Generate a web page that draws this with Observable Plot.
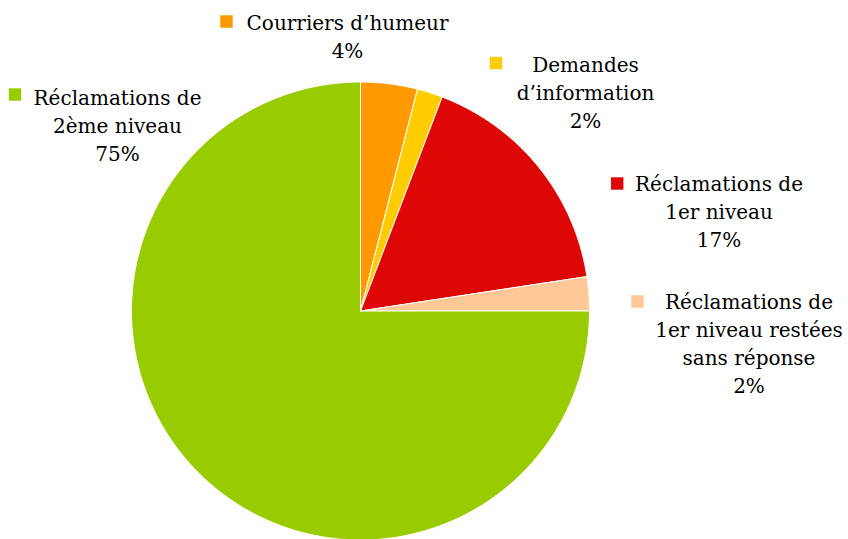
<!DOCTYPE html>
<html>
<head>
<meta charset="utf-8">
<script src="https://cdn.jsdelivr.net/npm/d3@7"></script>
<script src="https://cdn.jsdelivr.net/npm/@observablehq/plot@0.6"></script>
<style>
  html, body { margin: 0; padding: 0; background: #fff; }
  #chart svg { display: block; }
</style>
</head>
<body>
<div id="chart"></div>
<script>
// ---- Data ----
const categories = [
  "Courriers d’humeur",
  "Demandes d’information",
  "Réclamations de 1er niveau",
  "Réclamations de 1er niveau restées sans réponse",
  "Réclamations de 2ème niveau"
];
const values = [4.0, 1.8, 16.8, 2.4, 75.0];
const colors = ["#FF9900", "#FFCC00", "#DD0806", "#FFC896", "#99CC00"];
const labelLines = [
  ["Courriers d’humeur"],
  ["Demandes", "d’information"],
  ["Réclamations de", "1er niveau"],
  ["Réclamations de", "1er niveau restées", "sans réponse"],
  ["Réclamations de", "2ème niveau"]
];

// ---- Layout (pixels) ----
const W = 848, H = 539;
const CX = 360, CY = 310.5, R = 229;
const FS = 20, LH = 28;
// text centre x / first baseline, legend square centre
const labelLayout = [
  {tx: 347,   ty: 30,  sx: 226,   sy: 21},
  {tx: 585,   ty: 71.7, sx: 495.5, sy: 62.5},
  {tx: 718.5, ty: 191, sx: 616.7, sy: 183},
  {tx: 748.5, ty: 309, sx: 637,   sy: 301},
  {tx: 117,   ty: 105, sx: 14.5,  sy: 94}
];
const ux = px => (px - CX) / R;
const uy = py => (CY - py) / R;

// ---- Pie geometry (unit radius, y up, clockwise from 12 o'clock) ----
const arcs = d3.pie().sort(null).value(d => d.value).startAngle(0).endAngle(2 * Math.PI)(
  categories.map((c, i) => ({category: c, value: values[i]}))
);
const pieRows = [];
arcs.forEach(a => {
  const c = a.data.category;
  pieRows.push({category: c, x: 0, y: 0});
  const n = Math.max(2, Math.ceil((a.endAngle - a.startAngle) / 0.01));
  for (let k = 0; k <= n; k++) {
    const t = a.startAngle + (a.endAngle - a.startAngle) * k / n;
    pieRows.push({category: c, x: Math.sin(t), y: Math.cos(t)});
  }
  pieRows.push({category: c, x: 0, y: 0});
});

const labels = categories.map((c, i) => ({
  category: c,
  text: [...labelLines[i], Math.round(values[i]) + "%"].join("\n"),
  x: ux(labelLayout[i].tx),
  y: uy(labelLayout[i].ty - FS),
  sx: ux(labelLayout[i].sx),
  sy: uy(labelLayout[i].sy)
}));

const chart = Plot.plot({
  width: W,
  height: H,
  margin: 0,
  x: {domain: [ux(0), ux(W)], axis: null},
  y: {domain: [uy(H), uy(0)], axis: null},
  color: {domain: categories, range: colors},
  style: {fontFamily: "'DejaVu Serif', serif", background: "white"},
  marks: [
    Plot.line(pieRows, {x: "x", y: "y", z: "category", fill: "category", stroke: "white", strokeWidth: 1, curve: "linear"}),
    Plot.dot(labels, {x: "sx", y: "sy", fill: "category", symbol: "square", r: 7, stroke: null}),
    Plot.text(labels, {x: "x", y: "y", text: "text", textAnchor: "middle", lineAnchor: "top", lineHeight: LH / FS, fontSize: FS, fontFamily: "DejaVu Serif", fill: "#000"})
  ]
});
document.getElementById("chart").appendChild(chart);
</script>
</body>
</html>
